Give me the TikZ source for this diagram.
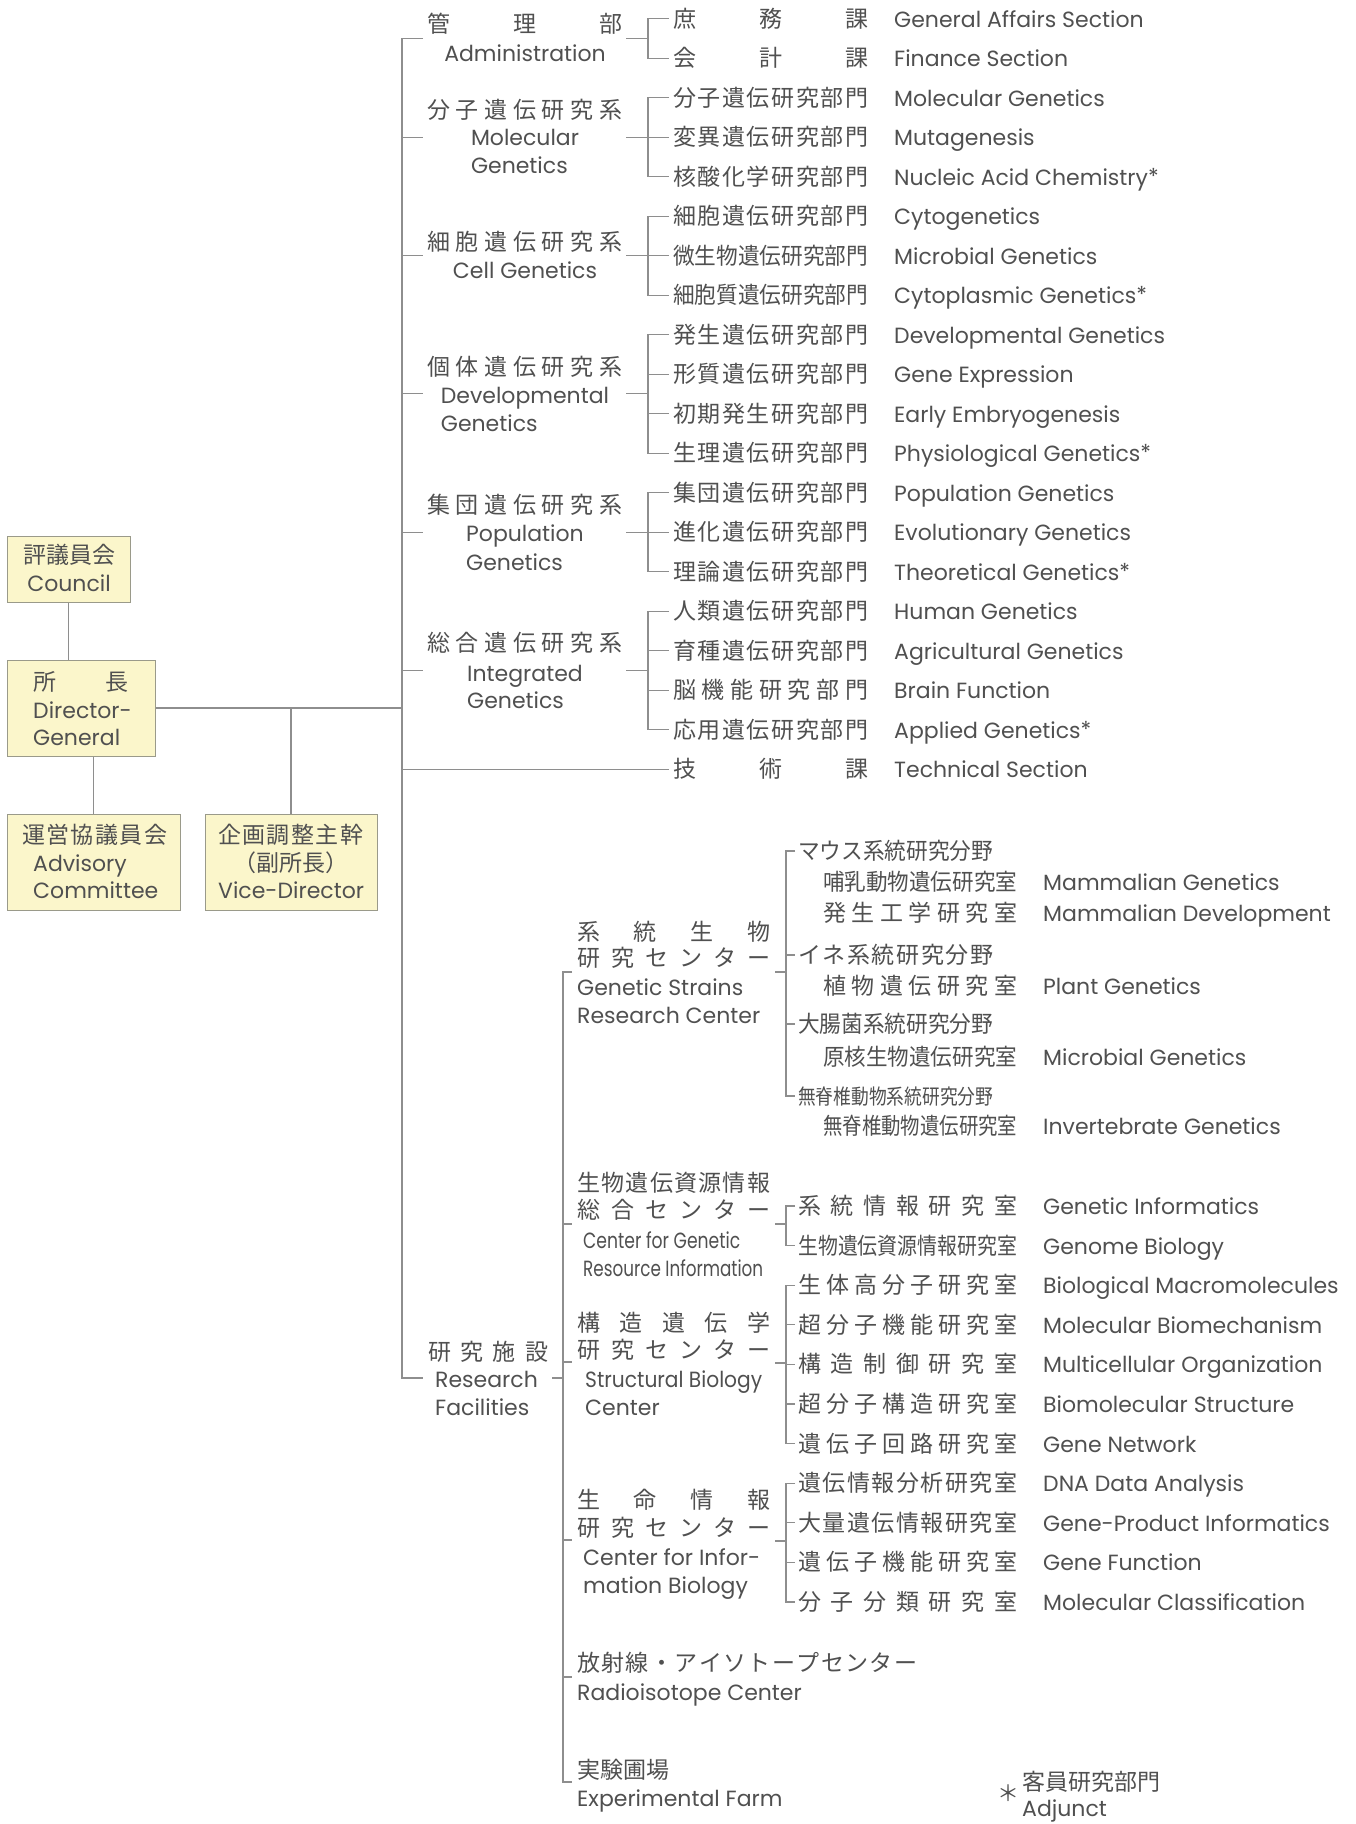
\documentclass[tikz,border=0pt]{standalone}
\usepackage{fontspec}
\setmainfont{Poppins}
\newfontfamily\jp{Noto Sans CJK JP}
\definecolor{txtc}{HTML}{505050}
\definecolor{linec}{HTML}{8E8E8E}
\definecolor{boxc}{HTML}{FBF6CB}
\definecolor{boxl}{HTML}{9A9A8A}
\newlength\jw
\let\jspEnd\relax
\def\jsp#1#2{\makebox[#1pt][s]{\expandafter\jspA#2\jspEnd}}
\def\jspA#1{#1\jspB}
\def\jspB#1{\ifx#1\jspEnd\else\hfill#1\expandafter\jspB\fi}
\newcommand\jfit[2]{\settowidth\jw{#2}\ifdim\jw>#1pt\relax\resizebox{#1pt}{\height}{#2}\else\jsp{#1}{#2}\fi}
\newcommand\astk{\raisebox{1pt}{*}}
\tikzset{
  basetxt/.style={inner sep=0pt, text height=17pt, text depth=0pt, text=txtc},
  en/.style={basetxt, anchor=west, font=\fontsize{22}{26}\selectfont},
  jpn/.style={basetxt, anchor=west, font=\jp\fontsize{23}{27}\selectfont},
  conn/.style={draw=linec, line width=1.2pt},
  org/.style={draw=boxl, fill=boxc, line width=1pt, inner sep=0pt},
}
\begin{document}
\begin{tikzpicture}[x=1pt,y=-1pt]
\fill[white] (0,0) rectangle (1356,1824);
\useasboundingbox (0,0) rectangle (1356,1824);

% ---------- boxes ----------
\node[org, minimum width=123pt, minimum height=66pt] (council) at (68.5,569) {};
\node[org, minimum width=148pt, minimum height=96pt] (dg) at (81,708) {};
\node[org, minimum width=173pt, minimum height=96pt] (adv) at (93.5,862) {};
\node[org, minimum width=172pt, minimum height=96pt] (vice) at (291,862) {};

\node[jpn, anchor=center] (councilj) at (69.5,555) {評議員会};
\node[en, anchor=center] (councile) at (69,583) {Council};
\node[jpn] (dgj1) at (33,682) {\jfit{95}{所長}};
\node[en] (dge1) at (33,710) {Director-};
\node[en] (dge2) at (33,737) {General};
\node[jpn] (advj) at (22,835) {\jfit{145}{運営協議員会}};
\node[en] (adve1) at (33,863) {Advisory};
\node[en] (adve2) at (33,890) {Committee};
\node[jpn] (vicej1) at (218,835) {\jfit{145}{企画調整主幹}};
\node[jpn, anchor=center] (vicej2) at (291,863) {（副所長）};
\node[en] (vicee) at (218,890) {Vice-Director};

\coordinate (dgjoin) at (402,708);
\draw[conn] (council.south) -- (council.south |- dg.north);
\draw[conn] (adv.north) -- (adv.north |- dg.south);
\draw[conn] (dg.east) -- (dgjoin);
\draw[conn] (vice.north) -- (vice.north |- dg.east);

% ---------- main trunk ----------
\coordinate (trtop) at (402,38.35);
\coordinate (trbot) at (402,1378);
\draw[conn] (423,38.35) -- (trtop) -- (trbot) -- (423,1378);

% ---------- divisions ----------
\node[jpn] (d0) at (427,24) {\jfit{195}{管理部}};
\node[en, anchor=center] (d0e) at (525,53) {Administration};
\node[jpn] (d1) at (427,110) {\jfit{195}{分子遺伝研究系}};
\node[en, anchor=center] (d1e) at (525,137) {Molecular};
\node[en] (d1f) at (d1e.west |- 0,165) {Genetics};
\node[jpn] (d2) at (427,242) {\jfit{195}{細胞遺伝研究系}};
\node[en, anchor=center] (d2e) at (525,270) {Cell Genetics};
\node[jpn] (d3) at (427,367) {\jfit{195}{個体遺伝研究系}};
\node[en, anchor=center] (d3e) at (525,395) {Developmental};
\node[en] (d3f) at (d3e.west |- 0,423) {Genetics};
\node[jpn] (d4) at (427,505) {\jfit{195}{集団遺伝研究系}};
\node[en, anchor=center] (d4e) at (525,533) {Population};
\node[en] (d4f) at (d4e.west |- 0,562) {Genetics};
\node[jpn] (d5) at (427,643) {\jfit{195}{総合遺伝研究系}};
\node[en, anchor=center] (d5e) at (525,673) {Integrated};
\node[en] (d5f) at (d5e.west |- 0,700) {Genetics};

\foreach \cc in {38.35,137.1,255.6,393.85,532.1,670.35} {
  \draw[conn] (402,\cc) -- (423,\cc);
  \draw[conn] (626,\cc) -- (648,\cc);
}

% ---------- upper sub-units ----------
\foreach \kk/\jj/\ee in {
 0/庶務課/General Affairs Section,
 1/会計課/Finance Section,
 2/分子遺伝研究部門/Molecular Genetics,
 3/変異遺伝研究部門/Mutagenesis,
 4/核酸化学研究部門/{Nucleic Acid Chemistry\astk},
 5/細胞遺伝研究部門/Cytogenetics,
 6/微生物遺伝研究部門/Microbial Genetics,
 7/細胞質遺伝研究部門/{Cytoplasmic Genetics\astk},
 8/発生遺伝研究部門/Developmental Genetics,
 9/形質遺伝研究部門/Gene Expression,
 10/初期発生研究部門/Early Embryogenesis,
 11/生理遺伝研究部門/{Physiological Genetics\astk},
 12/集団遺伝研究部門/Population Genetics,
 13/進化遺伝研究部門/Evolutionary Genetics,
 14/理論遺伝研究部門/{Theoretical Genetics\astk},
 15/人類遺伝研究部門/Human Genetics,
 16/育種遺伝研究部門/Agricultural Genetics,
 17/脳機能研究部門/Brain Function,
 18/応用遺伝研究部門/{Applied Genetics\astk},
 19/技術課/Technical Section} {
  \node[jpn] (u\kk) at (673,{18.6+39.5*\kk}) {\jfit{195}{\jj}};
  \node[en] (ue\kk) at (894,{18.6+39.5*\kk}) {\ee};
}
\foreach \aa/\bb in {0/1,2/4,5/7,8/11,12/14,15/18} {
  \draw[conn] ([xshift=-4pt]u\aa.west) -| ([xshift=-25pt]u\bb.west) -- ([xshift=-4pt]u\bb.west);
}
\foreach \mm in {3,6,9,10,13,16,17} {
  \draw[conn] ([xshift=-25pt]u\mm.west) -- ([xshift=-4pt]u\mm.west);
}
\draw[conn] (402,769.1) -- ([xshift=-4pt]u19.west);

% ---------- research facilities ----------
\node[jpn] (rf) at (428,1352) {\jfit{120}{研究施設}};
\node[en] (rfe1) at (435,1379) {Research};
\node[en] (rfe2) at (435,1407) {Facilities};
\draw[conn] (552,1378) -- (563,1378);

\draw[conn] (572,972) -- (563,972) -- (563,1782) -- (572,1782);
\foreach \cc in {1224,1362,1540,1677} { \draw[conn] (563,\cc) -- (572,\cc); }

% Genetic Strains Research Center
\node[jpn] (c1a) at (577,932) {\jfit{193}{系統生物}};
\node[jpn] (c1b) at (577,958) {\jfit{193}{研究センター}};
\node[en] (c1c) at (577,987) {Genetic Strains};
\node[en] (c1d) at (577,1015) {Research Center};
\draw[conn] (775,972) -- (786,972);

\node[jpn] (g1) at (798,851) {\jfit{195}{マウス系統研究分野}};
\node[jpn] (g1a) at (823,882) {\jfit{194}{哺乳動物遺伝研究室}};
\node[en] (g1ae) at (1043,882) {Mammalian Genetics};
\node[jpn] (g1b) at (823,913) {\jfit{194}{発生工学研究室}};
\node[en] (g1be) at (1043,913) {Mammalian Development};
\node[jpn] (g2) at (798,955) {\jfit{195}{イネ系統研究分野}};
\node[jpn] (g2a) at (823,986) {\jfit{194}{植物遺伝研究室}};
\node[en] (g2ae) at (1043,986) {Plant Genetics};
\node[jpn] (g3) at (798,1024) {\jfit{195}{大腸菌系統研究分野}};
\node[jpn] (g3a) at (823,1057) {\jfit{194}{原核生物遺伝研究室}};
\node[en] (g3ae) at (1043,1057) {Microbial Genetics};
\node[jpn, text height=16pt, font=\jp\fontsize{21}{25}\selectfont] (g4) at (798,1096) {\jfit{195}{無脊椎動物系統研究分野}};
\node[jpn] (g4a) at (823,1126) {\jfit{194}{無脊椎動物遺伝研究室}};
\node[en] (g4ae) at (1043,1126) {Invertebrate Genetics};
\draw[conn] ([xshift=-3pt]g1.west) -| ([xshift=-12pt]g4.west) -- ([xshift=-3pt]g4.west);
\foreach \nn in {g2,g3} { \draw[conn] ([xshift=-12pt]\nn.west) -- ([xshift=-3pt]\nn.west); }

% Center for Genetic Resource Information
\node[jpn] (c2a) at (577,1183) {\jfit{193}{生物遺伝資源情報}};
\node[jpn] (c2b) at (577,1210) {\jfit{193}{総合センター}};
\node[en] (c2c) at (583,1240) {\resizebox{157pt}{\height}{Center for Genetic}};
\node[en] (c2d) at (583,1268) {\resizebox{180pt}{\height}{Resource Information}};
\draw[conn] (775,1224) -- (786,1224);

% Structural Biology Center
\node[jpn] (c3a) at (577,1323) {\jfit{193}{構造遺伝学}};
\node[jpn] (c3b) at (577,1350) {\jfit{193}{研究センター}};
\node[en] (c3c) at (585,1379) {\resizebox{177pt}{\height}{Structural Biology}};
\node[en] (c3d) at (585,1407) {Center};
\draw[conn] (775,1363) -- (786,1363);

% Center for Information Biology
\node[jpn] (c4a) at (577,1500) {\jfit{193}{生命情報}};
\node[jpn] (c4b) at (577,1528) {\jfit{193}{研究センター}};
\node[en] (c4c) at (583,1557) {Center for Infor-};
\node[en] (c4d) at (583,1585) {mation Biology};
\draw[conn] (775,1541) -- (786,1541);

% Radioisotope Center, Experimental Farm
\node[jpn] (c5a) at (577,1663) {\jfit{340}{放射線・アイソトープセンター}};
\node[en] (c5b) at (577,1692) {Radioisotope Center};
\node[jpn] (c6a) at (577,1770) {実験圃場};
\node[en] (c6b) at (577,1798) {Experimental Farm};

% research sub-units
\foreach \kk/\jj/\ee in {
 0/系統情報研究室/Genetic Informatics,
 1/生物遺伝資源情報研究室/Genome Biology,
 2/生体高分子研究室/Biological Macromolecules,
 3/超分子機能研究室/Molecular Biomechanism,
 4/構造制御研究室/Multicellular Organization,
 5/超分子構造研究室/Biomolecular Structure,
 6/遺伝子回路研究室/Gene Network,
 7/遺伝情報分析研究室/DNA Data Analysis,
 8/大量遺伝情報研究室/Gene-Product Informatics,
 9/遺伝子機能研究室/Gene Function,
 10/分子分類研究室/Molecular Classification} {
  \node[jpn] (r\kk) at (798,{1206+39.6*\kk}) {\jfit{219}{\jj}};
  \node[en] (re\kk) at (1043,{1206+39.6*\kk}) {\ee};
}
\foreach \aa/\bb in {0/1,2/6,7/10} {
  \draw[conn] ([xshift=-3pt]r\aa.west) -| ([xshift=-12pt]r\bb.west) -- ([xshift=-3pt]r\bb.west);
}
\foreach \mm in {3,4,5,8,9} {
  \draw[conn] ([xshift=-12pt]r\mm.west) -- ([xshift=-3pt]r\mm.west);
}

% Adjunct note
\node[basetxt, font=\jp\fontsize{22}{26}\selectfont] (ast) at (1008,1793) {＊};
\node[jpn] (adjj) at (1022,1782) {客員研究部門};
\node[en] (adje) at (1022,1808) {Adjunct};
\end{tikzpicture}
\end{document}
